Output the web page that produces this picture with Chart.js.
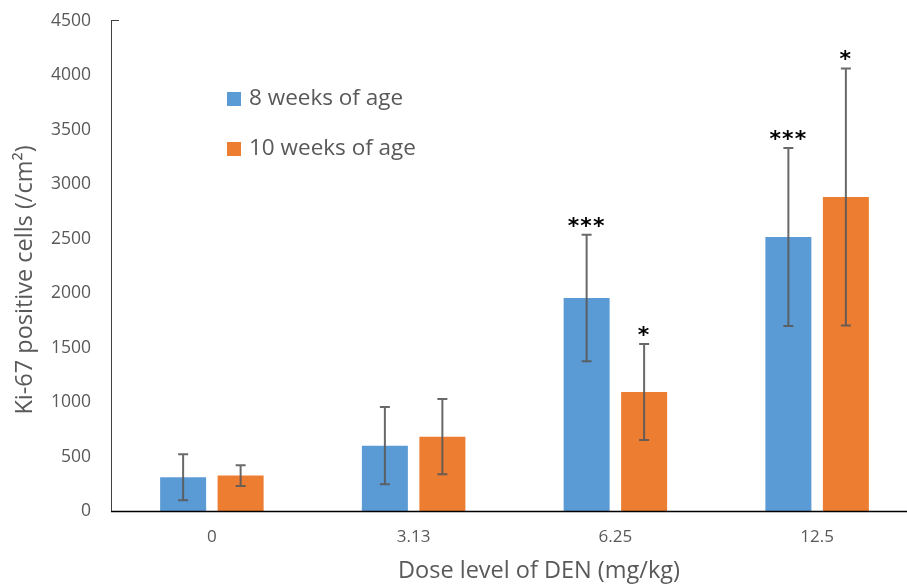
<!DOCTYPE html>
<html>
<head>
<meta charset="utf-8">
<script src="https://cdn.jsdelivr.net/npm/chart.js@4.4.0/dist/chart.umd.min.js"></script>
<style>
html,body{margin:0;padding:0;background:#fff;overflow:hidden;}
#wrap{width:920px;height:585px;}
</style>
</head>
<body>
<div id="wrap"><canvas id="c" width="920" height="585"></canvas></div>
<script>
const categories = ["0", "3.13", "6.25", "12.5"];
const seriesNames = ["8 weeks of age", "10 weeks of age"];
const week8 = [310, 600, 1956, 2516];
const week10 = [325, 683, 1093, 2884];
const week8Err = [211, 355, 580, 818];
const week10Err = [96, 345, 441, 1180];
const week8Stars = ["", "", "***", "***"];
const week10Stars = ["", "", "*", "*"];
const yTicks = [0, 500, 1000, 1500, 2000, 2500, 3000, 3500, 4000, 4500];

const FONT = "'Open Sans', 'Noto Sans', sans-serif";
const TXT = "#595959";
const BLUE = "#5b9bd5";
const ORANGE = "#ed7d31";

const extras = {
  id: 'extras',
  afterDatasetsDraw(chart) {
    const ctx = chart.ctx;
    const y = chart.scales.y;
    const errs = [week8Err, week10Err];
    const vals = [week8, week10];
    const stars = [week8Stars, week10Stars];
    ctx.save();
    for (let d = 0; d < 2; d++) {
      const meta = chart.getDatasetMeta(d);
      meta.data.forEach((bar, i) => {
        const x = bar.x;
        const top = y.getPixelForValue(vals[d][i] + errs[d][i]);
        const bot = y.getPixelForValue(vals[d][i] - errs[d][i]);
        ctx.strokeStyle = "rgba(89,89,89,0.9)";
        ctx.lineWidth = 2;
        ctx.beginPath();
        ctx.moveTo(x, top); ctx.lineTo(x, bot);
        ctx.moveTo(x - 5, top); ctx.lineTo(x + 5, top);
        ctx.moveTo(x - 5, bot); ctx.lineTo(x + 5, bot);
        ctx.stroke();
        if (stars[d][i]) {
          ctx.fillStyle = "#000";
          ctx.font = "bold 22px 'DejaVu Sans', sans-serif";
          ctx.textAlign = "center";
          ctx.textBaseline = "middle";
          ctx.letterSpacing = "1px";
          ctx.fillText(stars[d][i], x, top - 8);
          ctx.letterSpacing = "0px";
        }
      });
    }
    // axis lines
    const ca = chart.chartArea;
    ctx.strokeStyle = "#000";
    ctx.lineWidth = 1.5;
    ctx.beginPath();
    ctx.moveTo(ca.left, ca.bottom + 0.5); ctx.lineTo(ca.right, ca.bottom + 0.5);
    ctx.stroke();
    ctx.strokeStyle = "#404040";
    ctx.lineWidth = 1;
    ctx.beginPath();
    ctx.moveTo(ca.left + 0.5, ca.top - 1); ctx.lineTo(ca.left + 0.5, ca.bottom);
    ctx.moveTo(ca.left, ca.top - 0.5); ctx.lineTo(ca.left + 8, ca.top - 0.5);
    ctx.stroke();
    // legend
    const colors = [BLUE, ORANGE];
    ctx.font = "22.5px " + FONT;
    ctx.textAlign = "left";
    ctx.textBaseline = "middle";
    for (let d = 0; d < 2; d++) {
      const ly = 99 + d * 50;
      ctx.fillStyle = colors[d];
      ctx.fillRect(227, ly - 7, 14, 14);
      ctx.fillStyle = TXT;
      ctx.fillText(seriesNames[d], 249, ly);
    }
    // axis titles
    ctx.font = "23.5px " + FONT;
    ctx.fillStyle = TXT;
    ctx.textAlign = "center";
    ctx.fillText("Dose level of DEN (mg/kg)", 539, 571);
    ctx.save();
    ctx.translate(25, 280);
    ctx.rotate(-Math.PI / 2);
    ctx.fillText("Ki-67 positive cells (/cm\u00B2)", 0, 0);
    ctx.restore();
    ctx.restore();
  }
};

new Chart(document.getElementById('c'), {
  type: 'bar',
  data: {
    labels: categories,
    datasets: [
      { label: seriesNames[0], data: week8, backgroundColor: BLUE, categoryPercentage: 0.57, barPercentage: 0.8 },
      { label: seriesNames[1], data: week10, backgroundColor: ORANGE, categoryPercentage: 0.57, barPercentage: 0.8 }
    ]
  },
  options: {
    responsive: false,
    animation: false,
    devicePixelRatio: 1,
    layout: { padding: { top: 21, right: 2, left: 0, bottom: 0 } },
    plugins: { legend: { display: false }, tooltip: { enabled: false } },
    scales: {
      x: {
        grid: { display: false, drawTicks: false },
        border: { display: false },
        ticks: { color: TXT, font: { family: FONT, size: 17 }, padding: 16 },
        afterFit(s) { s.height = 74; s.paddingLeft = 0; s.paddingRight = 0; }
      },
      y: {
        min: 0, max: 4500,
        afterBuildTicks(s) { s.ticks = yTicks.map(v => ({ value: v })); },
        grid: { display: false, drawTicks: false },
        border: { display: false },
        ticks: { color: TXT, font: { family: FONT, size: 17.5 }, padding: 20, callback: v => String(v) },
        afterFit(s) { s.width = 111; s.paddingTop = 0; s.paddingBottom = 0; }
      }
    }
  },
  plugins: [extras]
});
</script>
</body>
</html>
